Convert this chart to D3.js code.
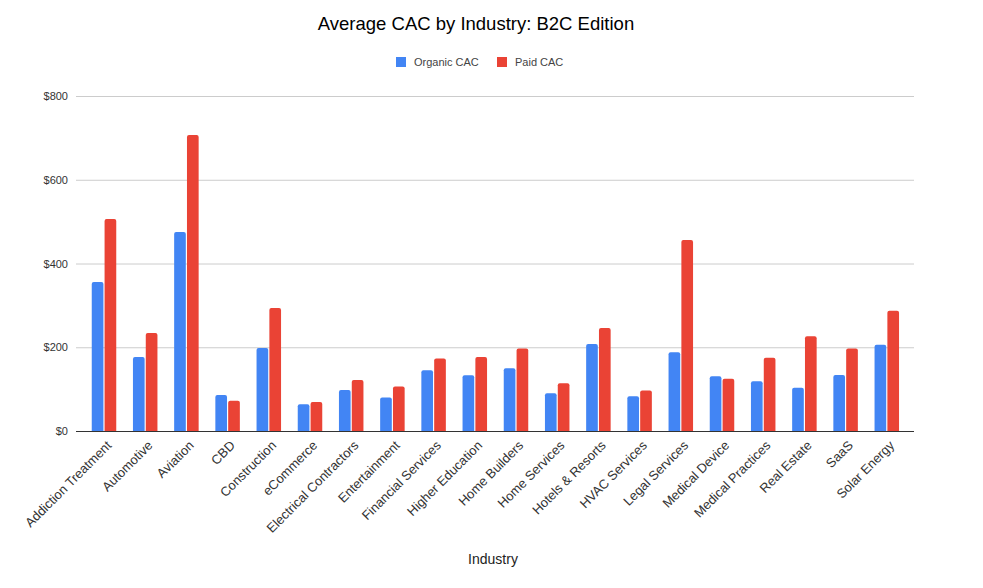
<!DOCTYPE html>
<html>
<head>
<meta charset="utf-8">
<script src="https://cdn.jsdelivr.net/npm/d3@7"></script>
<style>
  html, body { margin: 0; padding: 0; background: #fff; }
  svg { display: block; font-family: "Liberation Sans", Arial, sans-serif; }
</style>
</head>
<body>
<svg id="chart" width="983" height="588"></svg>
<script>
const categories = ["Addiction Treatment","Automotive","Aviation","CBD","Construction","eCommerce","Electrical Contractors","Entertainment","Financial Services","Higher Education","Home Builders","Home Services","Hotels & Resorts","HVAC Services","Legal Services","Medical Device","Medical Practices","Real Estate","SaaS","Solar Energy"];
const organicCAC = [356,177,475,86,198,64,98,80,145,133,150,90,208,83,188,131,119,103,134,206];
const paidCAC    = [506,234,707,72,294,69,122,106,173,177,197,114,246,97,456,125,175,226,197,287];
const seriesNames = ["Organic CAC","Paid CAC"];
const seriesColors = ["#4285f4","#ea4335"];
const yTicks = [0,200,400,600,800];

const svg = d3.select("#chart");
const plotLeft = 76, plotRight = 914, plotTop = 96, plotBottom = 431;

const x0 = d3.scaleBand().domain(categories).range([83.4, 907.4]).paddingInner(0).paddingOuter(0);
const x1 = d3.scaleBand().domain(seriesNames).range([0, 24.5]).paddingInner(0.09);
const y = d3.scaleLinear().domain([0, 800]).range([plotBottom, plotTop]);

// Title
svg.append("text").attr("x", 476).attr("y", 30).attr("text-anchor", "middle")
  .attr("font-size", 18.5).attr("fill", "#000").text("Average CAC by Industry: B2C Edition");

// Legend
const legend = svg.append("g");
const legendItems = [{x: 396}, {x: 497}];
seriesNames.forEach((s, i) => {
  const g = legend.append("g").attr("transform", `translate(${legendItems[i].x},57)`);
  g.append("rect").attr("width", 10).attr("height", 10).attr("fill", seriesColors[i]);
  g.append("text").attr("x", 18).attr("y", 9).attr("font-size", 11).attr("fill", "#444").text(s);
});

// Gridlines + y labels
const yAxis = d3.axisLeft(y).tickValues(yTicks).tickSize(-(plotRight - plotLeft)).tickFormat(d => "$" + d);
const gy = svg.append("g").attr("transform", `translate(${plotLeft},0)`).call(yAxis);
gy.select(".domain").remove();
gy.selectAll(".tick line").attr("stroke", "#cccccc").attr("stroke-width", 1);
gy.selectAll(".tick text").attr("x", -8).attr("font-size", 11).attr("fill", "#333")
  .attr("font-family", "Liberation Sans, Arial, sans-serif");

// Bars
const groups = svg.append("g").selectAll("g").data(categories).join("g")
  .attr("transform", d => `translate(${x0(d) + (x0.bandwidth() - 24.5) / 2},0)`);
const r = 2;
function barPath(xp, w, v) {
  const top = y(v), bot = y(0);
  return `M${xp},${bot}V${top + r}Q${xp},${top} ${xp + r},${top}H${xp + w - r}Q${xp + w},${top} ${xp + w},${top + r}V${bot}Z`;
}
groups.each(function(d, i) {
  const g = d3.select(this);
  const vals = [organicCAC[i], paidCAC[i]];
  g.selectAll("path").data(seriesNames).join("path")
    .attr("d", (s, j) => barPath(x1(s), x1.bandwidth(), vals[j]))
    .attr("fill", (s, j) => seriesColors[j]);
});

// Baseline
svg.append("line").attr("x1", plotLeft).attr("x2", plotRight).attr("y1", plotBottom + 0.5).attr("y2", plotBottom + 0.5)
  .attr("stroke", "#333").attr("stroke-width", 1);

// X axis labels
const xAxis = d3.axisBottom(x0).tickSize(0).tickPadding(0);
const gx = svg.append("g").attr("transform", `translate(0,${plotBottom})`).call(xAxis);
gx.select(".domain").remove();
gx.selectAll(".tick text")
  .attr("font-size", 13).attr("fill", "#333").attr("font-family", "Liberation Sans, Arial, sans-serif")
  .attr("text-anchor", "end")
  .attr("transform", "translate(5,12) rotate(-45)")
  .attr("dy", "0.35em").attr("y", 0).attr("x", 0);

// Axis title
svg.append("text").attr("x", 493).attr("y", 564).attr("text-anchor", "middle")
  .attr("font-size", 14).attr("fill", "#222").text("Industry");
</script>
</body>
</html>
